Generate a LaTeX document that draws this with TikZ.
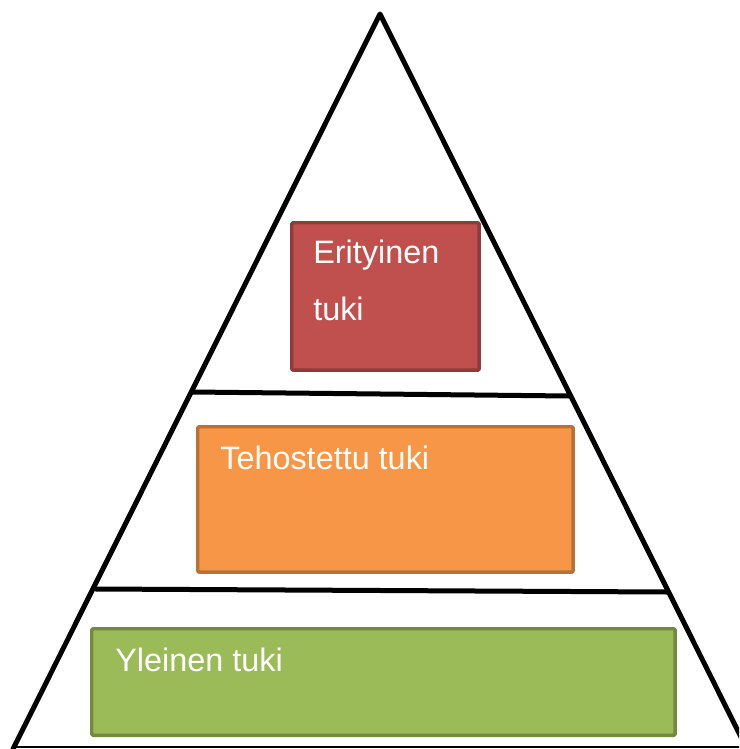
\documentclass[tikz,border=0pt]{standalone}
\usepackage{fontspec}
\setmainfont{Liberation Sans}
\usetikzlibrary{positioning}
\definecolor{erifill}{HTML}{C0504D}
\definecolor{eriline}{HTML}{8E3B39}
\definecolor{tehofill}{HTML}{F79646}
\definecolor{teholine}{HTML}{B87136}
\definecolor{ylefill}{HTML}{9BBB59}
\definecolor{yleline}{HTML}{72893F}
\definecolor{baseline}{HTML}{DADADA}

\begin{document}
\begin{tikzpicture}[x=0.75pt, y=-0.75pt, line cap=round, line join=round,
    levelbox/.style={draw, line width=2.6pt, rounded corners=1pt, inner sep=0pt, anchor=north west},
    leveltext/.style={text=white, font=\fontsize{24.3}{42.75}\selectfont, align=left, inner sep=0pt, anchor=base west}]

        % Frame of the picture
        \useasboundingbox (0,0) rectangle (739,749);
        \clip (0,0) rectangle (739,749);

        % Corner points of the pyramid
        \coordinate (apex) at (380,14);
        \coordinate (leftfoot) at (13,749);
        \coordinate (rightfoot) at (747,749);

        % Faint base line
        \draw[baseline, line width=1pt] (15,747) -- (739,747);

        % Pyramid outline
        \draw[line width=3.75pt] (leftfoot) -- (apex) -- (rightfoot);

        % Dividing lines between the levels
        \coordinate (upperleft) at (192,392);
        \coordinate (upperright) at (569,396);
        \coordinate (lowerleft) at (96,589);
        \coordinate (lowerright) at (667,592);
        \draw[line width=3.75pt] (upperleft) -- (upperright);
        \draw[line width=3.75pt] (lowerleft) -- (lowerright);

        % Levels of support
        \node[levelbox, draw=eriline, fill=erifill, minimum width=140.6pt, minimum height=110.6pt] (erityinen) at (290,221) {};
        \node[levelbox, draw=teholine, fill=tehofill, minimum width=281.6pt, minimum height=109.1pt] (tehostettu) at (196,425) {};
        \node[levelbox, draw=yleline, fill=ylefill, minimum width=437.6pt, minimum height=79.9pt] (yleinen) at (90,627) {};

        % Labels
        \node[leveltext] (eritext) at ([xshift=17.25pt, yshift=-74.25pt]erityinen.north west) {Erityinen\\tuki};
        \node[leveltext] (tehotext) at ([xshift=18pt, yshift=-33pt]tehostettu.north west) {Tehostettu tuki};
        \node[leveltext] (yletext) at ([xshift=18.75pt, yshift=-33pt]yleinen.north west) {Yleinen tuki};
    \end{tikzpicture}
\end{document}
